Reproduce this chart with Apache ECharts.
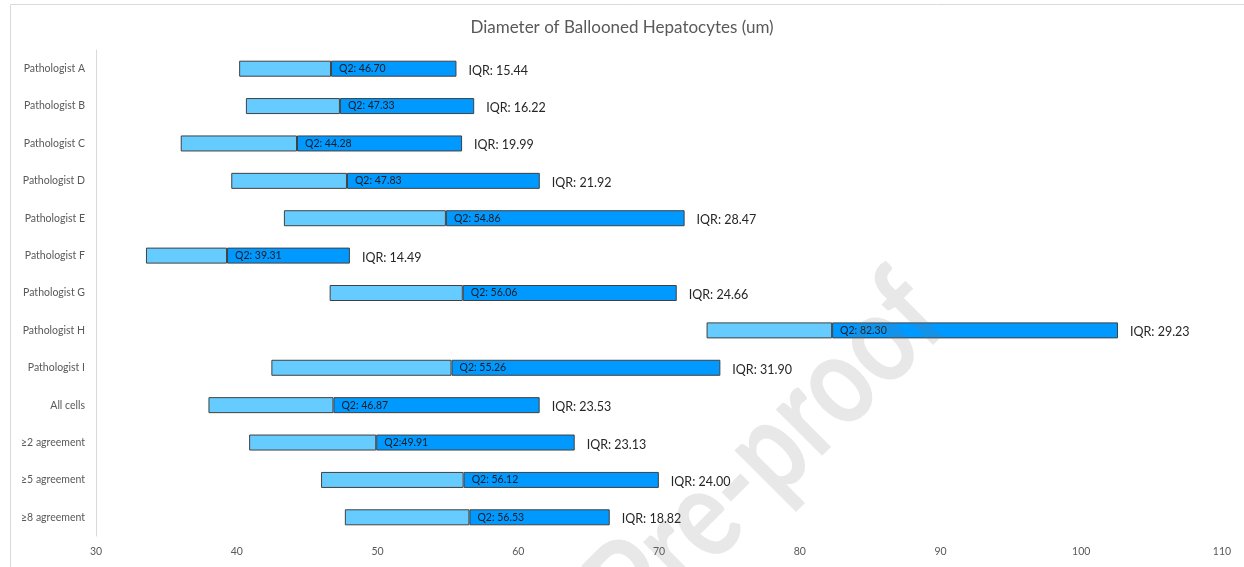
<!DOCTYPE html>
<html>
<head>
<meta charset="utf-8">
<script src="https://cdn.jsdelivr.net/npm/echarts@6/dist/echarts.min.js"></script>
<style>
html,body{margin:0;padding:0;background:#fff;}
#chart{width:1244px;height:567px;}
</style>
</head>
<body>
<div id="chart"></div>
<script>
const categories = ['Pathologist A','Pathologist B','Pathologist C','Pathologist D','Pathologist E','Pathologist F','Pathologist G','Pathologist H','Pathologist I','All cells','\u22652 agreement','\u22655 agreement','\u22658 agreement'];
const q1 = [40.17, 40.65, 36.02, 39.61, 43.35, 33.55, 46.60, 73.38, 42.46, 37.99, 40.88, 45.99, 47.68];
const q2 = [46.70, 47.33, 44.28, 47.83, 54.86, 39.31, 56.06, 82.30, 55.26, 46.87, 49.91, 56.12, 56.53];
const iqr = [15.44, 16.22, 19.99, 21.92, 28.47, 14.49, 24.66, 29.23, 31.90, 23.53, 23.13, 24.00, 18.82];
const q2Labels = ['Q2: 46.70','Q2: 47.33','Q2: 44.28','Q2: 47.83','Q2: 54.86','Q2: 39.31','Q2: 56.06','Q2: 82.30','Q2: 55.26','Q2: 46.87','Q2:49.91','Q2: 56.12','Q2: 56.53'];
const iqrLabels = iqr.map(v => 'IQR: ' + v.toFixed(2));
const xMin = 30, xMax = 110, xStep = 10;

const lowerPart = q2.map((v, i) => +(v - q1[i]).toFixed(2));
const upperPart = q2.map((v, i) => +(q1[i] + iqr[i] - v).toFixed(2));

const FONT = 'Lato';
const chart = echarts.init(document.getElementById('chart'));
chart.setOption({
  animation: false,
  textStyle: { fontFamily: FONT },
  title: {
    text: 'Diameter of Ballooned Hepatocytes (um)',
    left: 'center', top: 14,
    textStyle: { fontFamily: FONT, fontSize: 17, fontWeight: 'normal', color: '#595959' }
  },
  grid: { left: 96, right: 22, top: 50, bottom: 31, containLabel: false },
  xAxis: {
    type: 'value', min: xMin, max: xMax, interval: xStep,
    axisLine: { show: false }, axisTick: { show: false }, splitLine: { show: false },
    axisLabel: { color: '#595959', fontSize: 10.5, margin: 10, fontFamily: FONT }
  },
  yAxis: {
    type: 'category', data: categories, inverse: true,
    axisLine: { show: true, lineStyle: { color: '#d9d9d9', width: 1 } },
    axisTick: { show: false },
    axisLabel: { color: '#595959', fontSize: 10.5, margin: 11, fontFamily: FONT }
  },
  series: [
    {
      name: 'base', type: 'bar', stack: 'box', barWidth: 16, silent: true,
      itemStyle: { color: 'rgba(0,0,0,0)' }, data: q1
    },
    {
      name: 'Q1-Q2', type: 'bar', stack: 'box', barWidth: 16, z: 3,
      itemStyle: { color: '#66CCFF', borderColor: '#404040', borderWidth: 1 },
      label: {
        show: true, position: 'right', distance: 8,
        formatter: p => q2Labels[p.dataIndex],
        color: '#1a1a1a', fontSize: 10.5, fontFamily: FONT
      },
      data: lowerPart
    },
    {
      name: 'Q2-Q3', type: 'bar', stack: 'box', barWidth: 16, z: 2,
      itemStyle: { color: '#0099FF', borderColor: '#404040', borderWidth: 1 },
      label: {
        show: true, position: 'right', distance: 12, offset: [0, 2],
        formatter: p => iqrLabels[p.dataIndex],
        color: '#262626', fontSize: 12.5, fontFamily: FONT
      },
      data: upperPart
    }
  ],
  graphic: [
    {
      type: 'rect', silent: true, z: -10,
      shape: { x: 10.5, y: 4.5, width: 1260, height: 600 },
      style: { fill: 'none', stroke: '#d9d9d9', lineWidth: 1 }
    },
    {
      type: 'text', silent: true, z: 100,
      x: 968, y: 342, rotation: Math.PI / 4, scaleX: 0.8,
      style: {
        text: 'Journal Pre-proof', font: 'bold 128px ' + FONT,
        fill: 'rgba(110,110,110,0.16)', align: 'right', verticalAlign: 'bottom'
      }
    }
  ]
});
</script>
</body>
</html>
